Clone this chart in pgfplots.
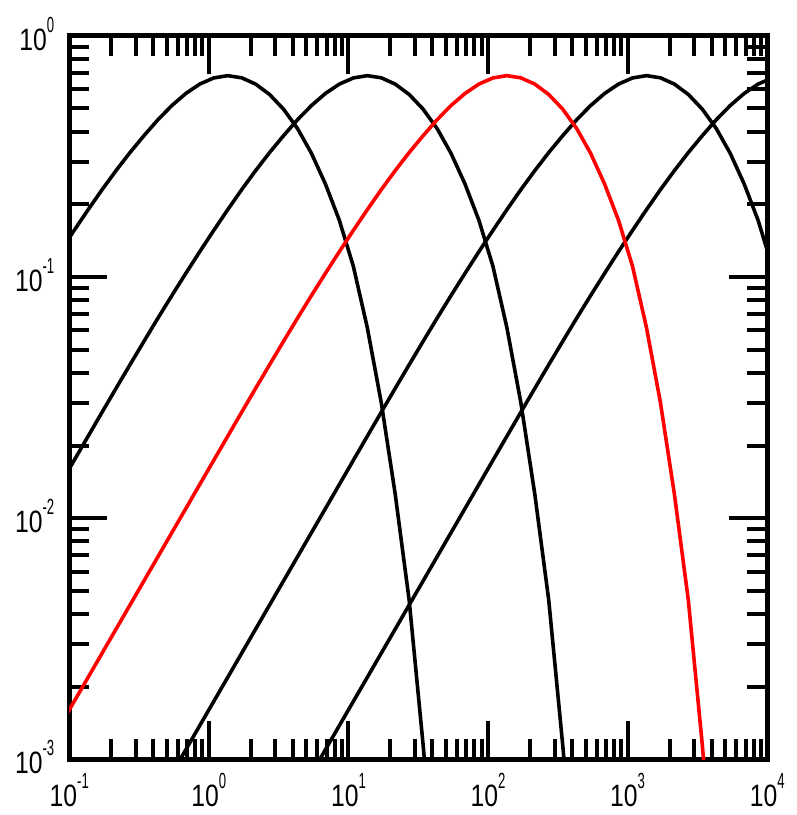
\documentclass[border=0pt]{standalone}
\usepackage{fontspec}
\setmainfont{Liberation Sans}
\usepackage{graphicx}
\usepackage{pgfplots}
\usepackage{pgfplotstable}
\pgfplotsset{compat=1.18}

% decade label: narrow 10 with a small raised exponent, in the text font
\newcommand{\dec}[1]{\scalebox{0.8}[1]{10}\raisebox{9pt}{\scalebox{0.6}[1]{\fontsize{11}{12}\selectfont #1}}}

% five copies of the same curve, one decade apart in x
\pgfplotstableread{
xa xb xc xd xe y
4.315e-4 4.315e-3 4.315e-2 4.315e-1 4.315e0 6.910e-4
5.433e-4 5.433e-3 5.433e-2 5.433e-1 5.433e0 8.700e-4
6.839e-4 6.839e-3 6.839e-2 6.839e-1 6.839e0 1.095e-3
8.610e-4 8.610e-3 8.610e-2 8.610e-1 8.610e0 1.379e-3
1.084e-3 1.084e-2 1.084e-1 1.084e0 1.084e1 1.736e-3
1.365e-3 1.365e-2 1.365e-1 1.365e0 1.365e1 2.185e-3
1.718e-3 1.718e-2 1.718e-1 1.718e0 1.718e1 2.751e-3
2.163e-3 2.163e-2 2.163e-1 2.163e0 2.163e1 3.463e-3
2.723e-3 2.723e-2 2.723e-1 2.723e0 2.723e1 4.360e-3
3.428e-3 3.428e-2 3.428e-1 3.428e0 3.428e1 5.489e-3
4.315e-3 4.315e-2 4.315e-1 4.315e0 4.315e1 6.910e-3
5.433e-3 5.433e-2 5.433e-1 5.433e0 5.433e1 8.700e-3
6.839e-3 6.839e-2 6.839e-1 6.839e0 6.839e1 1.095e-2
8.610e-3 8.610e-2 8.610e-1 8.610e0 8.610e1 1.379e-2
1.084e-2 1.084e-1 1.084e0 1.084e1 1.084e2 1.736e-2
1.365e-2 1.365e-1 1.365e0 1.365e1 1.365e2 2.185e-2
1.718e-2 1.718e-1 1.718e0 1.718e1 1.718e2 2.748e-2
2.163e-2 2.163e-1 2.163e0 2.163e1 2.163e2 3.451e-2
2.723e-2 2.723e-1 2.723e0 2.723e1 2.723e2 4.325e-2
3.428e-2 3.428e-1 3.428e0 3.428e1 3.428e2 5.408e-2
4.315e-2 4.315e-1 4.315e0 4.315e1 4.315e2 6.745e-2
5.433e-2 5.433e-1 5.433e0 5.433e1 5.433e2 8.375e-2
6.839e-2 6.839e-1 6.839e0 6.839e1 6.839e2 0.1035
8.610e-2 8.610e-1 8.610e0 8.610e1 8.610e2 0.1274
1.084e-1 1.084e0 1.084e1 1.084e2 1.084e3 0.1560
1.365e-1 1.365e0 1.365e1 1.365e2 1.365e3 0.1901
1.718e-1 1.718e0 1.718e1 1.718e2 1.718e3 0.2301
2.163e-1 2.163e0 2.163e1 2.163e2 2.163e3 0.2761
2.723e-1 2.723e0 2.723e1 2.723e2 2.723e3 0.3281
3.428e-1 3.428e0 3.428e1 3.428e2 3.428e3 0.3855
4.315e-1 4.315e0 4.315e1 4.315e2 4.315e3 0.4487
5.433e-1 5.433e0 5.433e1 5.433e2 5.433e3 0.5140
6.839e-1 6.839e0 6.839e1 6.839e2 6.839e3 0.5768
8.610e-1 8.610e0 8.610e1 8.610e2 8.610e3 0.6310
1.084e0 1.084e1 1.084e2 1.084e3 1.084e4 0.6690
1.365e0 1.365e1 1.365e2 1.365e3 1.365e4 0.6839
1.718e0 1.718e1 1.718e2 1.718e3 1.718e4 0.6699
2.163e0 2.163e1 2.163e2 2.163e3 2.163e4 0.6310
2.723e0 2.723e1 2.723e2 2.723e3 2.723e4 0.5715
3.428e0 3.428e1 3.428e2 3.428e3 3.428e4 0.4966
4.315e0 4.315e1 4.315e2 4.315e3 4.315e4 0.4130
5.433e0 5.433e1 5.433e2 5.433e3 5.433e4 0.3258
6.839e0 6.839e1 6.839e2 6.839e3 6.839e4 0.2432
8.610e0 8.610e1 8.610e2 8.610e3 8.610e4 0.1718
1.084e1 1.084e2 1.084e3 1.084e4 1.084e5 0.1109
1.365e1 1.365e2 1.365e3 1.365e4 1.365e5 0.0617
1.718e1 1.718e2 1.718e3 1.718e4 1.718e5 0.0302
2.163e1 2.163e2 2.163e3 2.163e4 2.163e5 0.01259
2.723e1 2.723e2 2.723e3 2.723e4 2.723e5 0.00457
3.428e1 3.428e2 3.428e3 3.428e4 3.428e5 0.001148
4.315e1 4.315e2 4.315e3 4.315e4 4.315e5 0.000251
}\curves

\begin{document}
\begin{tikzpicture}
\path[use as bounding box] (-34.75pt,-28pt) rectangle (364.75pt,381pt);
\begin{axis}[scale only axis,width=350.25pt,height=363pt,
  xmode=log,ymode=log,xmin=0.1,xmax=1e4,ymin=1e-3,ymax=1,
  axis line style={line width=2.5pt},
  xtick={0.1,1,10,100,1000,10000},
  xticklabels={\dec{-1},\dec{0},\dec{1},\dec{2},\dec{3},\dec{4}},
  ytick={0.001,0.01,0.1,1},
  yticklabels={\dec{-3},\dec{-2},\dec{-1},\dec{0}},
  minor xtick={0.2,0.3,0.4,0.5,0.6,0.7,0.8,0.9,2,3,4,5,6,7,8,9,20,30,40,50,60,70,80,90,200,300,400,500,600,700,800,900,2000,3000,4000,5000,6000,7000,8000,9000},
  minor ytick={0.002,0.003,0.004,0.005,0.006,0.007,0.008,0.009,0.02,0.03,0.04,0.05,0.06,0.07,0.08,0.09,0.2,0.3,0.4,0.5,0.6,0.7,0.8,0.9},
  tick align=inside,
  major tick length=19pt,minor tick length=10pt,
  tick style={black,line width=2pt},
  minor tick style={black,line width=2pt},
  ticklabel style={font=\fontsize{15.5}{18}\selectfont},
  xticklabel style={yshift=-3.5pt},
  yticklabel style={xshift=-4pt,yshift=1pt},
  every axis plot/.append style={line width=1.8pt,line join=round}]
\addplot[black] table[x=xa,y=y] {\curves};
\addplot[black] table[x=xb,y=y] {\curves};
\addplot[black] table[x=xd,y=y] {\curves};
\addplot[black] table[x=xe,y=y] {\curves};
\addplot[red] table[x=xc,y=y] {\curves};
\end{axis}
\end{tikzpicture}
\end{document}
